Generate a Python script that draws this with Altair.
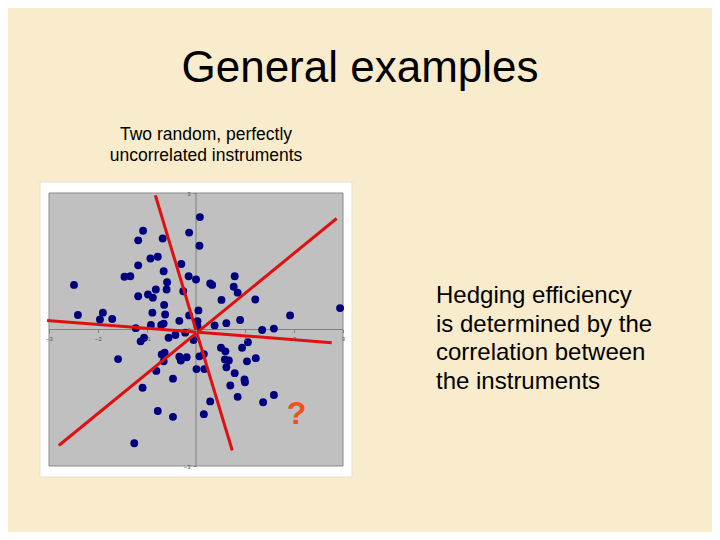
import altair as alt
import pandas as pd

# ---- data ----
dot_x = [0.08, -0.14, 0.07, -1.08, -1.18, -0.68, -0.93, -0.78, -1.18, -0.30,
         -1.46, -1.34, -0.66, -0.15, 0.00, -0.59, 0.29, 0.33, 0.79, 0.77,
         0.85, -2.49, -0.82, -0.60, -1.18, -0.98, -0.88, -0.26, 0.52, 1.21,
         -0.65, 0.05, -0.89, -0.63, -0.14, -2.41, -1.90, -1.96, -1.71, -0.92,
         -0.71, -0.66, -0.34, 0.03, 0.38, 0.62, 0.90, 1.92, 2.94, -1.23,
         1.35, 1.59, -0.42, -0.56, -0.22, -1.06, -1.13, -0.05, 1.06, 0.94,
         0.51, 0.60, -1.59, -0.70, -0.66, -0.34, -0.31, -0.19, 0.07, 0.16,
         0.59, 0.67, 1.04, 1.22, 0.62, 0.01, 0.17, -0.81, 0.79, 0.99,
         1.00, -0.47, 0.70, -1.09, 0.85, 0.29, 1.37, 1.59, -0.78, -0.47,
         0.16, -1.26, -0.64, 0.03]
dot_y = [2.47, 2.13, 1.84, 2.17, 1.96, 2.00, 1.56, 1.60, 1.41, 1.44,
         1.16, 1.17, 1.28, 1.17, 1.10, 1.04, 1.01, 0.98, 1.17, 0.94,
         0.81, 0.98, 0.88, 0.88, 0.73, 0.77, 0.70, 0.84, 0.65, 0.66,
         0.54, 0.42, 0.37, 0.33, 0.31, 0.32, 0.37, 0.22, 0.23, 0.10,
         0.10, 0.13, 0.19, 0.18, 0.09, 0.14, 0.21, 0.31, 0.47, 0.03,
         -0.01, 0.02, -0.12, -0.18, -0.07, -0.18, -0.26, -0.23, -0.28, -0.40,
         -0.40, -0.48, -0.65, -0.55, -0.70, -0.60, -0.68, -0.61, -0.59, -0.54,
         -0.66, -0.68, -0.70, -0.63, -0.83, -0.87, -0.87, -0.91, -0.96, -1.10,
         -1.16, -1.08, -1.23, -1.28, -1.48, -1.58, -1.60, -1.44, -1.79, -1.92,
         -1.86, -2.50, -0.51, 0.07]

line_id = ["steep", "steep", "rising", "rising", "flat", "flat"]
line_x = [-0.83, 0.74, -2.80, 2.87, -3.04, 2.77]
line_y = [2.95, -2.66, -2.55, 2.44, 0.20, -0.29]

x_ticks = [-3, -2, -1, 0, 1, 2, 3]
y_ticks = [-3, 0, 3]
domain = [-3, 3]

title_text = "General examples"
subtitle_lines = ["Two random, perfectly", "uncorrelated instruments"]
side_lines = ["Hedging efficiency", "is determined by the",
              "correlation between", "the instruments"]
mark_text = "?"
mark_pos_x = [2.05]
mark_pos_y = [-2.07]

# ---- tables ----
dots = pd.DataFrame({"x": dot_x, "y": dot_y})
lines = pd.DataFrame({"line": line_id, "x": line_x, "y": line_y})
bg = pd.DataFrame({"x0": [domain[0]], "x1": [domain[1]],
                   "y0": [domain[0]], "y1": [domain[1]]})
vrule = pd.DataFrame({"x": [0], "y0": [domain[0]], "y1": [domain[1]]})
hrule = pd.DataFrame({"y": [0], "x0": [domain[0]], "x1": [domain[1]]})
qmark = pd.DataFrame({"x": mark_pos_x, "y": mark_pos_y, "t": [mark_text]})
one = pd.DataFrame({"k": [0]})

W, H = 294, 273
FONT = "Liberation Sans"

xs = alt.Scale(domain=domain, nice=False, zero=False)
ys = alt.Scale(domain=domain, nice=False, zero=False)

x_axis = alt.Axis(values=x_ticks, offset=-H / 2, domain=False, grid=False,
                  ticks=True, tickSize=3, tickColor="#808080", labelFontSize=6,
                  labelColor="#555555", labelFlush=False, labelPadding=3,
                  title=None, zindex=1, labelFont=FONT)
y_axis = alt.Axis(values=y_ticks, offset=-W / 2, domain=False, grid=False,
                  ticks=True, tickSize=3, tickColor="#808080", labelFontSize=6,
                  labelColor="#555555", labelPadding=3, title=None, zindex=1,
                  labelFont=FONT)

frame = alt.Chart(one).mark_rect(fill="white", stroke="#e6e0d4",
                                 strokeWidth=1).encode(
    x=alt.value(-9), x2=alt.value(W + 9), y=alt.value(-11), y2=alt.value(H + 11))

plot_bg = alt.Chart(bg).mark_rect(fill="#C0C0C0", stroke="#8a8a8a",
                                  strokeWidth=1).encode(
    x=alt.X("x0:Q", scale=xs, axis=x_axis), x2="x1:Q",
    y=alt.Y("y0:Q", scale=ys, axis=y_axis), y2="y1:Q")

v_zero = alt.Chart(vrule).mark_rule(color="#808080", strokeWidth=1).encode(
    x="x:Q", y="y0:Q", y2="y1:Q")
h_zero = alt.Chart(hrule).mark_rule(color="#808080", strokeWidth=1).encode(
    y="y:Q", x="x0:Q", x2="x1:Q")

pts = alt.Chart(dots).mark_circle(size=62, color="#00007F", opacity=1).encode(
    x="x:Q", y="y:Q")

red = alt.Chart(lines).mark_line(color="#E01010", strokeWidth=3).encode(
    x="x:Q", y="y:Q", detail="line:N")

q = alt.Chart(qmark).mark_text(font=FONT, fontSize=32, fontWeight="bold",
                               color="#F0501A", align="center",
                               baseline="alphabetic").encode(
    x="x:Q", y="y:Q", text="t:N")

title = alt.Chart(one).mark_text(text=title_text, font=FONT, fontSize=44,
                                 color="black", align="center",
                                 baseline="alphabetic").encode(
    x=alt.value(311), y=alt.value(-111))

subtitle = alt.Chart(one).mark_text(text=subtitle_lines, font=FONT, fontSize=17.5,
                                    lineHeight=21, color="black", align="center",
                                    baseline="alphabetic").encode(
    x=alt.value(157), y=alt.value(-53))

side = alt.Chart(one).mark_text(text=side_lines, font=FONT, fontSize=24,
                                lineHeight=28.5, color="black", align="left",
                                baseline="alphabetic").encode(
    x=alt.value(387), y=alt.value(110))

chart = alt.layer(frame, plot_bg, v_zero, h_zero, pts, red, q,
                  title, subtitle, side).properties(
    width=W, height=H,
    autosize=alt.AutoSizeParams(type="none"),
    padding={"left": 41, "top": 185, "right": 369, "bottom": 66},
).configure(background="#F9ECCC", font=FONT).configure_view(strokeWidth=0)

chart.save("out.html", embed_options={"renderer": "svg", "actions": False})
